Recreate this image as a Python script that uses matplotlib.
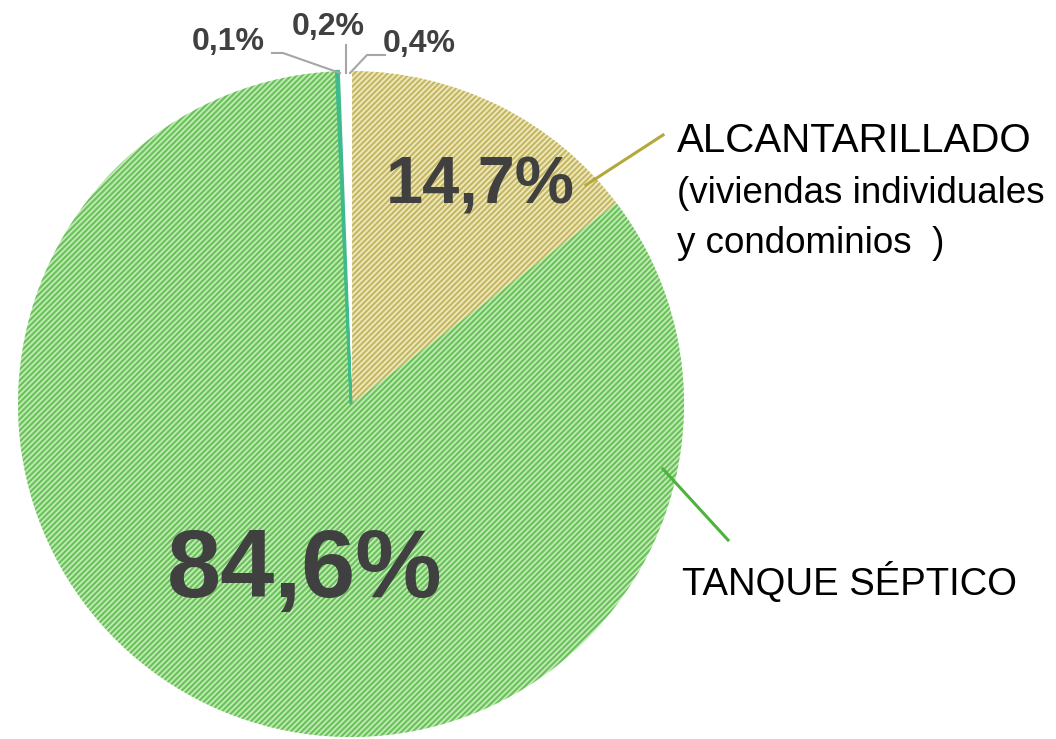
import matplotlib
matplotlib.use("Agg")
import matplotlib.pyplot as plt
from matplotlib.lines import Line2D

# ---- data ----
categories = ["ALCANTARILLADO\n(viviendas individuales\ny condominios  )", "TANQUE SÉPTICO", "Otro 1", "Otro 2", "Otro 3"]
values = [14.7, 84.6, 0.1, 0.2, 0.4]
labels = ["14,7%", "84,6%", "0,1%", "0,2%", "0,4%"]

W, H = 1056, 739
fig = plt.figure(figsize=(W / 100, H / 100), dpi=100)
fig.patch.set_facecolor("white")

def fx(x):
    return x / W

def fy(y):
    return 1 - y / H

cx, cy, r = 351, 404, 333
ax = fig.add_axes([fx(cx - r), fy(cy + r), 2 * r / W, 2 * r / H])

plt.rcParams["hatch.linewidth"] = 1.6

face = ["#f2ebc0", "#c4edb8", "#3fba8c", "white", "white"]
hatch_col = ["#c4b866", "#6cc25c", "#3fba8c", "white", "white"]
hatches = ["//////", "//////", None, None, None]

wedges, _ = ax.pie(values, startangle=90, counterclock=False, radius=1,
                   colors=face, wedgeprops=dict(linewidth=0))
ax.set_xlim(-1, 1)
ax.set_ylim(-1, 1)
ax.set_aspect("equal")
ax.axis("off")
for i, w in enumerate(wedges):
    if hatches[i]:
        w.set_hatch(hatches[i])
        w.set_edgecolor(hatch_col[i])
        w.set_linewidth(0)
    if i >= 3:
        w.set_edgecolor("white")
        w.set_linewidth(1.5)
        w.set_zorder(1)
    if i == 2:
        w.set_edgecolor("#3fba8c")
        w.set_linewidth(2.0)
        w.set_zorder(2)

dark = "#404040"
# percentage labels
fig.text(fx(480), fy(186), labels[0], ha="center", va="center", fontsize=48,
         fontweight="bold", color=dark, family="Liberation Sans")
fig.text(fx(305), fy(572), labels[1], ha="center", va="center", fontsize=70,
         fontweight="bold", color=dark, family="Liberation Sans")
fig.text(fx(228), fy(42), labels[2], ha="center", va="center", fontsize=23,
         fontweight="bold", color=dark, family="Liberation Sans")
fig.text(fx(328), fy(27), labels[3], ha="center", va="center", fontsize=23,
         fontweight="bold", color=dark, family="Liberation Sans")
fig.text(fx(419), fy(44), labels[4], ha="center", va="center", fontsize=23,
         fontweight="bold", color=dark, family="Liberation Sans")

# category labels
fam = "Liberation Sans"
lines = categories[0].split("\n")
fig.text(fx(677), fy(152), lines[0], ha="left", va="baseline", fontsize=29,
         color="black", family=fam)
fig.text(fx(677), fy(203), lines[1], ha="left", va="baseline", fontsize=26.5,
         color="black", family=fam)
fig.text(fx(677), fy(253), lines[2], ha="left", va="baseline", fontsize=26.5,
         color="black", family=fam)
fig.text(fx(682), fy(595), categories[1], ha="left", va="baseline", fontsize=27.5,
         color="black", family=fam)

# leader lines
def leader(xs, ys, color, lw):
    fig.add_artist(Line2D([fx(x) for x in xs], [fy(y) for y in ys],
                          transform=fig.transFigure, color=color, linewidth=lw))

leader([586, 663], [185, 135], "#b5a83a", 2.2)
leader([663, 728], [469, 540], "#4db33d", 2.2)
gray = "#a6a6a6"
leader([272, 283, 340], [53, 53, 73], gray, 1.5)
leader([346, 346], [45, 73], gray, 1.5)
leader([385, 367, 350], [55, 55, 73], gray, 1.5)

fig.savefig("out.png", dpi=100, facecolor="white")
